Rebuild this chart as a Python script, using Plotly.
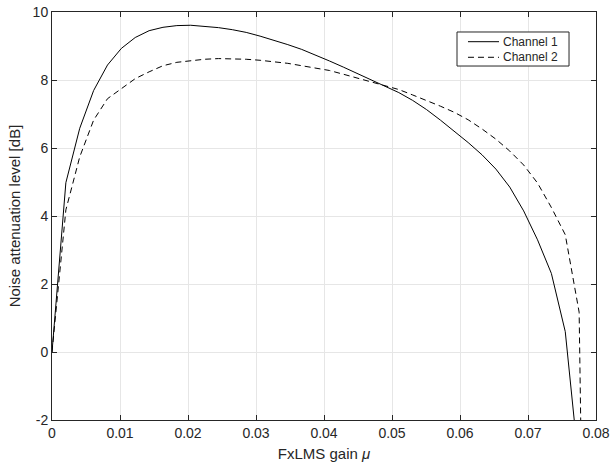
import plotly.graph_objects as go

mu = [0, 0.00204, 0.00408, 0.00612, 0.00816, 0.0102, 0.01224, 0.01428, 0.01632, 0.01836,
      0.0204, 0.02244, 0.02448, 0.02652, 0.02856, 0.0306, 0.03264, 0.03468, 0.03672, 0.03876,
      0.0408, 0.04284, 0.04488, 0.04692, 0.04896, 0.051, 0.05304, 0.05508, 0.05712, 0.05916,
      0.0612, 0.06324, 0.06528, 0.06732, 0.06936, 0.0714, 0.07344, 0.07548, 0.07752, 0.07956]

channel1 = [0, 4.98, 6.58, 7.69, 8.44, 8.93, 9.25, 9.45, 9.55, 9.60,
            9.61, 9.58, 9.54, 9.48, 9.40, 9.29, 9.17, 9.04, 8.90, 8.74,
            8.56, 8.38, 8.19, 8.00, 7.83, 7.63, 7.40, 7.13, 6.82, 6.50,
            6.16, 5.80, 5.38, 4.85, 4.15, 3.30, 2.31, 0.60, -3.42, -20.0]

channel2 = [0, 4.18, 5.74, 6.82, 7.45, 7.74, 8.04, 8.24, 8.42, 8.52,
            8.57, 8.61, 8.63, 8.63, 8.61, 8.58, 8.54, 8.49, 8.42, 8.35,
            8.28, 8.17, 8.06, 7.96, 7.85, 7.72, 7.56, 7.40, 7.23, 7.05,
            6.83, 6.56, 6.26, 5.91, 5.50, 4.97, 4.25, 3.45, 1.17, -27.0]

series_names = ["Channel 1", "Channel 2"]
x_ticks = [0, 0.01, 0.02, 0.03, 0.04, 0.05, 0.06, 0.07, 0.08]
x_labels = ["0", "0.01", "0.02", "0.03", "0.04", "0.05", "0.06", "0.07", "0.08"]
y_ticks = [-2, 0, 2, 4, 6, 8, 10]
y_labels = ["-2", "0", "2", "4", "6", "8", "10"]

font_family = "Liberation Sans, Arial, Helvetica, sans-serif"
ink = "#262626"
dashes = ["solid", "6px,4px"]

fig = go.Figure()
for name, vals, dash in zip(series_names, [channel1, channel2], dashes):
    fig.add_trace(go.Scatter(x=mu, y=vals, mode="lines", name=name, showlegend=False,
                             line=dict(color="#000000", width=1, dash=dash)))

axis_common = dict(
    showgrid=True, gridcolor="#e6e6e6", gridwidth=1,
    showline=True, linecolor=ink, linewidth=1, mirror="ticks",
    ticks="inside", ticklen=5, tickcolor=ink,
    tickfont=dict(family=font_family, size=14, color=ink),
    zeroline=False, automargin=False,
)

fig.update_xaxes(range=[0, 0.08], tickvals=x_ticks, ticktext=x_labels,
                 title=dict(text="FxLMS gain <i>μ</i>", standoff=8,
                            font=dict(family=font_family, size=15, color=ink)),
                 **axis_common)
fig.update_yaxes(range=[-2, 10], tickvals=y_ticks, ticktext=y_labels,
                 title=dict(text="Noise attenuation level [dB]", standoff=8,
                            font=dict(family=font_family, size=15, color=ink)),
                 **axis_common)

# Legend box drawn in plot-area (paper) coordinates
shapes = [dict(type="rect", xref="paper", yref="paper", x0=0.7445, x1=0.9504,
               y0=0.8676, y1=0.951, line=dict(color=ink, width=1), fillcolor="white",
               layer="above")]
annotations = []
legend_rows = [0.9272, 0.8890]
for name, dash, yy in zip(series_names, dashes, legend_rows):
    shapes.append(dict(type="line", xref="paper", yref="paper", x0=0.7647, x1=0.8217,
                       y0=yy, y1=yy, line=dict(color="#000000", width=1, dash=dash),
                       layer="above"))
    annotations.append(dict(xref="paper", yref="paper", x=0.8254, y=yy, text=name,
                            showarrow=False, xanchor="left", yanchor="middle",
                            font=dict(family=font_family, size=12, color=ink)))

fig.update_layout(
    width=611, height=471,
    margin=dict(l=52, r=15, t=12, b=51),
    plot_bgcolor="white", paper_bgcolor="white",
    showlegend=False,
    shapes=shapes, annotations=annotations,
)

fig.write_html("out.html")
